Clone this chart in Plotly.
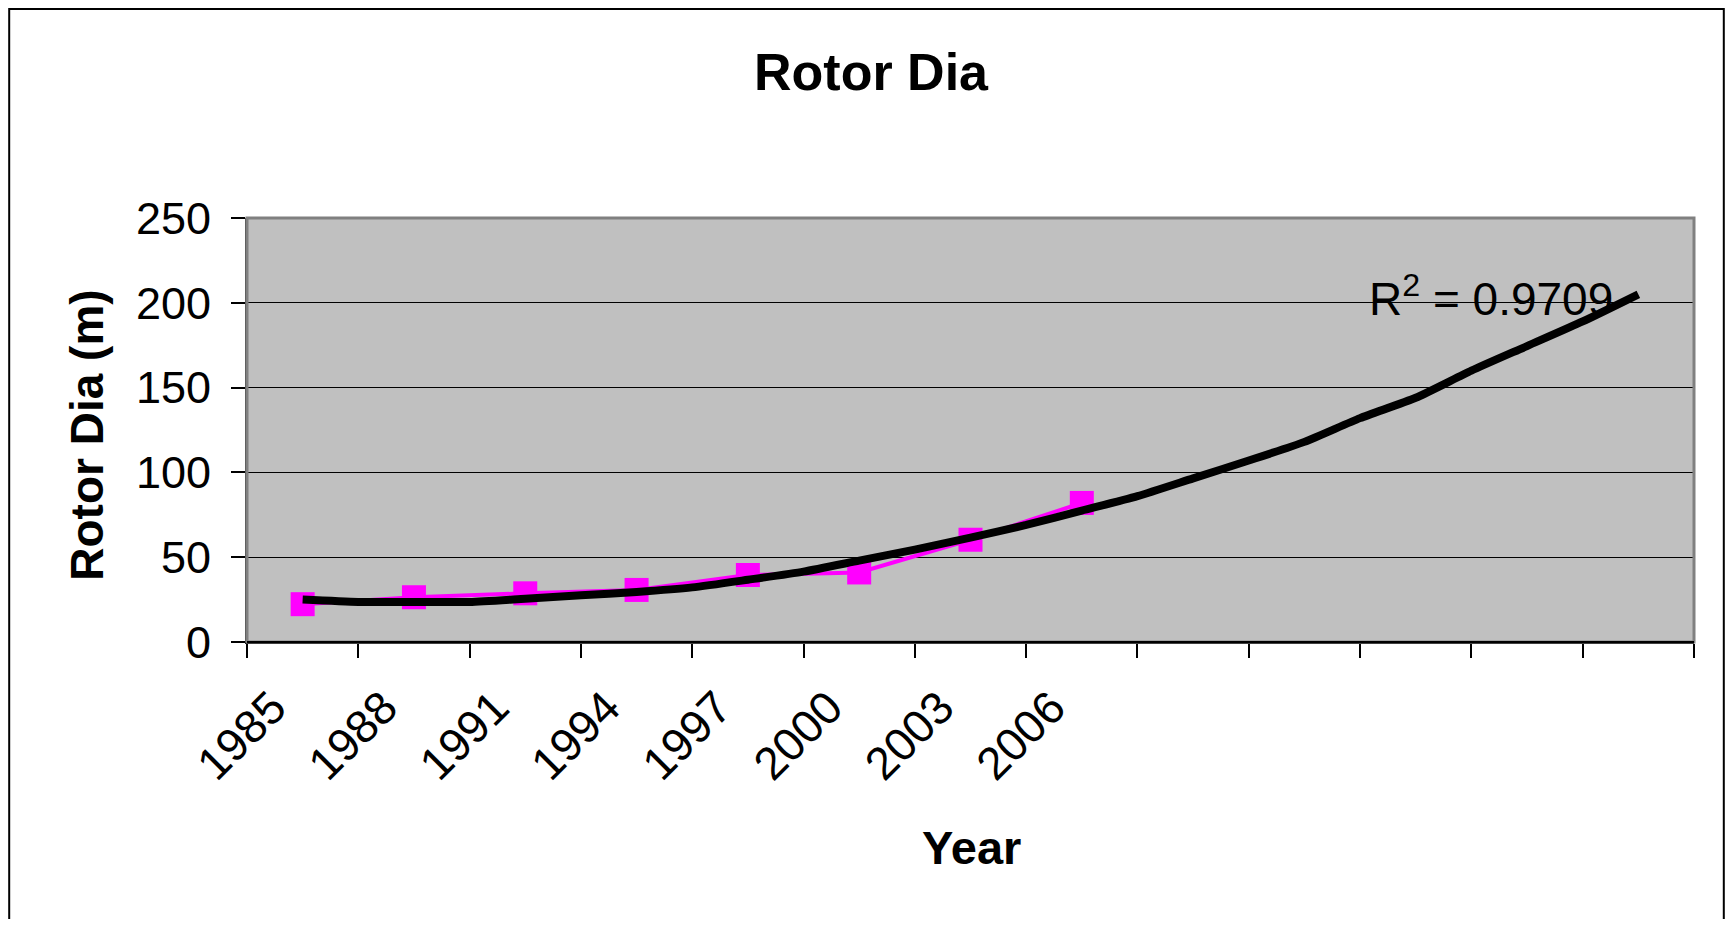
import plotly.graph_objects as go

# ---- data ----
years = ["1985", "1988", "1991", "1994", "1997", "2000", "2003", "2006"]
rotor_dia = [22.3, 26.4, 28.7, 30.7, 39.5, 41.0, 60.3, 82.0]

# trendline as drawn (category position -> value)
trend_pos = [1.0, 1.5, 2.0, 2.5, 3.0, 3.5, 4.0, 4.5, 5.0, 5.5, 6.0, 6.5, 7.0,
             7.5, 8.0, 8.5, 9.0, 9.5, 10.0, 10.5, 11.0, 11.5, 12.0, 12.5, 13.0]
trend_val = [25.0, 23.6, 23.6, 23.6, 25.5, 27.5, 29.5, 32.2, 36.7, 41.5, 48.0,
             54.5, 61.5, 69.0, 77.5, 86.0, 96.5, 107.0, 118.0, 132.0, 144.0,
             160.0, 174.5, 189.0, 205.0]
n_categories = 13
r2_text = "R<sup>2</sup> = 0.9709"

FONT = "Liberation Sans, Arial, sans-serif"

# page has an 8px body margin; work in page pixels and convert
OFF = 8
W, H = 1733 - 2 * OFF, 927 - 2 * OFF
L, R, T, B = 247 - OFF, 1694 - OFF, 218.3 - OFF, 642.3 - OFF
PW, PH = R - L, B - T


def px_x(x):
    return (x - OFF - L) / PW


def px_y(y):
    return (B - (y - OFF)) / PH


cat_x = list(range(1, len(years) + 1))
label_x = [c - 0.27 for c in cat_x]

fig = go.Figure()
fig.add_trace(go.Scatter(
    x=cat_x, y=rotor_dia, mode="lines+markers",
    line=dict(color="#FF00FF", width=4),
    marker=dict(symbol="square", size=24, color="#FF00FF"),
    showlegend=False, hoverinfo="x+y"))
fig.add_trace(go.Scatter(
    x=trend_pos, y=trend_val, mode="lines",
    line=dict(color="#000000", width=8, shape="spline", smoothing=0.6),
    showlegend=False))

fig.update_layout(
    width=W, height=H,
    margin=dict(l=L, r=W - R, t=T, b=H - B, pad=0),
    paper_bgcolor="white", plot_bgcolor="#C0C0C0",
    font=dict(family=FONT, color="black", size=45),
    showlegend=False,
)

fig.update_xaxes(
    range=[0.5, n_categories + 0.5],
    tickmode="array", tickvals=label_x, ticktext=years,
    ticks="", tickangle=-45, tickfont=dict(size=46, family=FONT),
    showgrid=False, zeroline=False,
    showline=True, linecolor="black", linewidth=2,
    minor=dict(tick0=0.5, dtick=1, ticks="outside", ticklen=14,
               tickcolor="black", tickwidth=1.5, showgrid=False),
    ticklabelstandoff=18,
)
fig.update_yaxes(
    range=[0, 250], tickmode="linear", tick0=0, dtick=50,
    ticks="outside", ticklen=14, tickcolor="black", tickwidth=1.5,
    tickfont=dict(size=45, family=FONT),
    showgrid=True, gridcolor="black", gridwidth=1,
    zeroline=False, showline=True, linecolor="#404040", linewidth=2,
    ticklabelstandoff=11,
)

# plot-area border (gray) and outer chart frame
fig.add_shape(type="rect", xref="paper", yref="paper", x0=0, x1=1, y0=0, y1=1,
              line=dict(color="#808080", width=3), layer="above")
fig.add_shape(type="line", xref="paper", yref="paper", x0=0, x1=1, y0=0, y1=0,
              line=dict(color="black", width=2), layer="above")
fig.add_shape(type="rect", xref="paper", yref="paper",
              x0=px_x(9.2), x1=px_x(1723.8), y0=px_y(9.2), y1=px_y(990),
              line=dict(color="black", width=2), layer="above")

# titles and R^2 label
fig.add_annotation(text="<b>Rotor Dia</b>", xref="paper", yref="paper",
                   x=px_x(871.5), y=px_y(72), xanchor="center", yanchor="middle",
                   showarrow=False, font=dict(size=52, family=FONT))
fig.add_annotation(text="<b>Rotor Dia (m)</b>", xref="paper", yref="paper",
                   x=px_x(87), y=px_y(436), xanchor="center", yanchor="middle",
                   textangle=-90, showarrow=False, font=dict(size=46, family=FONT))
fig.add_annotation(text="<b>Year</b>", xref="paper", yref="paper",
                   x=px_x(971.7), y=px_y(848), xanchor="center", yanchor="middle",
                   showarrow=False, font=dict(size=47, family=FONT))
fig.add_annotation(text=r2_text, xref="paper", yref="paper",
                   x=px_x(1366.7), y=px_y(296), xanchor="left", yanchor="middle",
                   showarrow=False, font=dict(size=46, family=FONT))

fig.write_html("out.html")
